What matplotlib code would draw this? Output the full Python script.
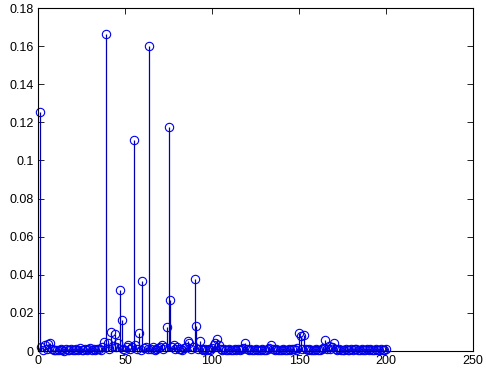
import matplotlib
matplotlib.use("Agg")
import matplotlib.pyplot as plt
from matplotlib.ticker import FuncFormatter

x_values = list(range(1, 201))
y_values = [
    0.1255, 0.0020, 0.0006, 0.0030, 0.0008, 0.0035, 0.0044, 0.0010, 0.0004, 0.0007,
    0.0003, 0.0006, 0.0009, 0.0004, 0.0002, 0.0008, 0.0005, 0.0003, 0.0010, 0.0006,
    0.0004, 0.0012, 0.0007, 0.0015, 0.0005, 0.0003, 0.0009, 0.0006, 0.0011, 0.0014,
    0.0005, 0.0008, 0.0004, 0.0010, 0.0013, 0.0007, 0.0020, 0.0045, 0.1662, 0.0040,
    0.0012, 0.0101, 0.0025, 0.0090, 0.0020, 0.0040, 0.0320, 0.0163, 0.0010, 0.0006,
    0.0020, 0.0030, 0.0012, 0.0022, 0.1107, 0.0030, 0.0010, 0.0093, 0.0006, 0.0367,
    0.0015, 0.0020, 0.0008, 0.1602, 0.0012, 0.0020, 0.0007, 0.0010, 0.0015, 0.0020,
    0.0030, 0.0010, 0.0020, 0.0124, 0.1175, 0.0268, 0.0020, 0.0030, 0.0010, 0.0020,
    0.0008, 0.0012, 0.0006, 0.0015, 0.0020, 0.0050, 0.0040, 0.0010, 0.0020, 0.0378,
    0.0133, 0.0010, 0.0050, 0.0012, 0.0006, 0.0009, 0.0004, 0.0011, 0.0007, 0.0015,
    0.0030, 0.0040, 0.0061, 0.0030, 0.0008, 0.0005, 0.0012, 0.0006, 0.0004, 0.0009,
    0.0007, 0.0003, 0.0010, 0.0005, 0.0008, 0.0006, 0.0012, 0.0015, 0.0044, 0.0010,
    0.0005, 0.0008, 0.0003, 0.0006, 0.0009, 0.0004, 0.0007, 0.0005, 0.0010, 0.0006,
    0.0004, 0.0012, 0.0015, 0.0030, 0.0010, 0.0006, 0.0008, 0.0004, 0.0007, 0.0005,
    0.0009, 0.0003, 0.0006, 0.0010, 0.0005, 0.0008, 0.0012, 0.0006, 0.0015, 0.0096,
    0.0078, 0.0010, 0.0082, 0.0012, 0.0006, 0.0009, 0.0004, 0.0007, 0.0005, 0.0008,
    0.0003, 0.0006, 0.0010, 0.0015, 0.0058, 0.0012, 0.0025, 0.0010, 0.0020, 0.0040,
    0.0010, 0.0006, 0.0008, 0.0004, 0.0007, 0.0005, 0.0009, 0.0003, 0.0006, 0.0010,
    0.0005, 0.0008, 0.0012, 0.0006, 0.0004, 0.0009, 0.0007, 0.0003, 0.0010, 0.0005,
    0.0008, 0.0006, 0.0004, 0.0009, 0.0007, 0.0005, 0.0010, 0.0006, 0.0004, 0.0008,
]
x_ticks = [0, 50, 100, 150, 200, 250]
y_ticks = [0, 0.02, 0.04, 0.06, 0.08, 0.10, 0.12, 0.14, 0.16, 0.18]

plt.rcParams['font.family'] = ['Liberation Sans', 'DejaVu Sans']

fig = plt.figure(figsize=(4.86, 3.70), dpi=100)
ax = fig.add_axes([38/486, 19/370, 435/486, 343/370])

markerline, stemlines, baseline = ax.stem(x_values, y_values)
stemlines.set_color('#0000b0')
stemlines.set_linewidth(0.9)
markerline.set_marker('o')
markerline.set_markersize(6)
markerline.set_markerfacecolor('none')
markerline.set_markeredgecolor('#0000ee')
markerline.set_markeredgewidth(0.8)
markerline.set_linestyle('none')
markerline.set_clip_on(False)
stemlines.set_clip_on(False)
baseline.set_visible(False)

ax.set_xlim(0, 250)
ax.set_ylim(0, 0.18)
ax.set_xticks(x_ticks)
ax.set_yticks(y_ticks)
ax.yaxis.set_major_formatter(FuncFormatter(lambda v, p: '%g' % round(v, 4)))
ax.tick_params(direction='in', top=True, right=True, length=4, width=0.6,
               labelsize=9, pad=3, colors='black')
for s in ax.spines.values():
    s.set_linewidth(0.8)
    s.set_color('black')

fig.savefig('out.png', dpi=100, facecolor='white')
